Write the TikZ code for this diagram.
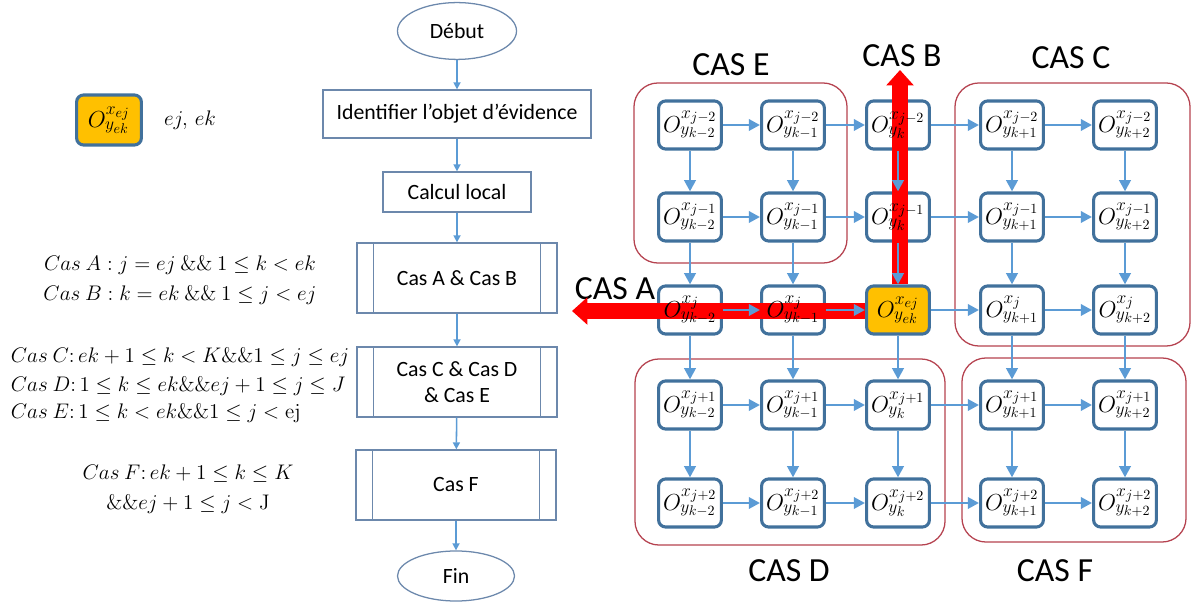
\RequirePackage{fix-cm}
\documentclass[tikz,border=0pt]{standalone}
\usepackage[no-math]{fontspec}
\setmainfont{Carlito}
\usetikzlibrary{arrows.meta,shapes.geometric}
\DeclareMathSizes{16.5}{16.5}{12.5}{10}
\DeclareMathSizes{15}{15}{11}{8.5}
\definecolor{nodeborder}{HTML}{41719C}
\definecolor{arrowblue}{HTML}{5B9BD5}
\definecolor{grpred}{HTML}{B5424F}
\definecolor{flowborder}{HTML}{6C88AC}
\definecolor{evid}{HTML}{FFC000}
\definecolor{bigred}{HTML}{FF0000}
\tikzset{
  gbox/.style={draw=nodeborder, line width=2.2pt, rounded corners=5pt, minimum width=1.57cm, minimum height=1.2cm, inner sep=0pt},
  gtext/.style={font=\fontsize{16.5}{20}\selectfont, inner sep=0pt},
  garrow/.style={draw=arrowblue, line width=2pt, -{Triangle[length=8pt,width=8pt]}},
  grp/.style={draw=grpred, line width=0.9pt, rounded corners=0.6cm, inner sep=0pt},
  caslab/.style={font=\fontsize{24}{28}\selectfont, inner sep=0pt},
  fbox/.style={draw=flowborder, line width=0.9pt, fill=white, font=\fontsize{15.5}{19}\selectfont, inner sep=0pt, align=center},
  fline/.style={draw=flowborder, line width=0.9pt},
  farrow/.style={draw=arrowblue, line width=1.1pt, -{Triangle[length=5pt,width=5pt]}},
  redarrow/.style={draw=bigred, line width=10.7pt, -{Triangle[length=11pt,width=19pt]}},
  condtext/.style={font=\fontsize{15}{18}\selectfont, inner sep=0pt},
}
\begin{document}
\begin{tikzpicture}[x=0.025cm, y=-0.025cm]
\useasboundingbox (0,0) rectangle (1192,602);

% ---------- flowchart ----------
\node[fbox, ellipse, minimum width=2.975cm, minimum height=1.42cm] (debut) at (457,31) {Début};
\node[fbox, minimum width=6.7cm, minimum height=1.2cm] (ident) at (457,114) {Identifier l’objet d’évidence};
\node[fbox, minimum width=3.7cm, minimum height=1.0cm] (calc) at (457,192) {Calcul local};
\node[fbox, minimum width=5.0cm, minimum height=1.75cm] (casAB) at (457,278) {Cas A \& Cas B};
\node[fbox, minimum width=5.0cm, minimum height=1.75cm] (casCDE) at (457,382) {Cas C \& Cas D\\\& Cas E};
\node[fbox, minimum width=5.0cm, minimum height=1.75cm] (casF) at (456,485) {Cas F};
\node[fbox, ellipse, minimum width=2.925cm, minimum height=1.25cm] (fin) at (456,576) {Fin};
\foreach \n in {casAB,casCDE,casF}{
  \draw[fline] ([xshift=0.425cm]\n.north west) -- ([xshift=0.425cm]\n.south west);
  \draw[fline] ([xshift=-0.425cm]\n.north east) -- ([xshift=-0.425cm]\n.south east);
}
\draw[farrow] (debut) -- (ident);
\draw[farrow] (ident) -- (calc);
\draw[farrow] (calc) -- (casAB);
\draw[farrow] (casAB) -- (casCDE);
\draw[farrow] (casCDE) -- (casF);
\draw[farrow] (casF) -- (fin);

% ---------- legend ----------
\node[gbox, fill=evid, minimum width=1.62cm, minimum height=1.25cm] (leg) at (109,120) {};
\node[gtext] (legt) at (leg) {$O^{x_{ej}}_{y_{ek}}$};
\node[condtext] (legej) at (190,120) {$ej,\,ek$};

% ---------- conditions ----------
\node[condtext, align=center] (condAB) at (180,280) {$Cas\ A: j = ej\ \&\&\ 1 \le k < ek$\\[3pt]$Cas\ B: k = ek\ \&\&\ 1 \le j < ej$};
\node[condtext, align=left] (condCDE) at (180,385) {$Cas\ C\colon ek+1\le k<K\&\&1\le j\le ej$\\[3pt]$Cas\ D\colon 1\le k\le ek\&\&ej+1\le j\le J$\\[1pt]$Cas\ E\colon 1\le k<ek\&\&1\le j<\mathrm{ej}$};
\node[condtext, align=center] (condF) at (188,489) {$Cas\ F\colon ek+1\le k\le K$\\[3pt]$\&\&ej+1\le j<\mathrm{J}$};

% ---------- groups ----------
\node[grp, minimum width=5.325cm, minimum height=4.5cm] (grpE) at (740.5,173) {};
\node[grp, minimum width=5.875cm, minimum height=6.575cm] (grpC) at (1072.5,214.5) {};
\node[grp, minimum width=7.75cm, minimum height=4.65cm] (grpD) at (790,452) {};
\node[grp, minimum width=5.6cm, minimum height=4.6cm] (grpF) at (1074,450) {};

\node[caslab] (labE) at (731,65) {CAS E};
\node[caslab] (labB) at (902,56) {CAS B};
\node[caslab] (labC) at (1071,58) {CAS C};
\node[caslab] (labD) at (789,571) {CAS D};
\node[caslab] (labF) at (1055,571) {CAS F};
\node[caslab] (labA) at (615,289) {CAS A};

% ---------- grid boxes ----------
\foreach \rr/\yy in {1/125,2/217,3/310,4/405,5/503}{
  \foreach \cc/\xx in {1/690,2/793,3/898,4/1012,5/1125}{
    \ifnum\rr\cc=33 \def\fc{evid}\else\def\fc{white}\fi
    \node[gbox, fill=\fc] (c\rr\cc) at (\xx,\yy) {};
  }
}

% ---------- red arrows ----------
\coordinate (tipA) at (572,311);
\coordinate (tipB) at (900,70);
\draw[redarrow] ([yshift=-0.025cm]c33.west) -- (tipA);
\draw[redarrow] ([xshift=0.05cm]c33.north) -- ([xshift=0.05cm]c33.north |- tipB);

% ---------- blue arrows ----------
\foreach \rr in {1,...,5}{
  \foreach \cc in {1,...,4}{
    \pgfmathtruncatemacro\nc{\cc+1}
    \draw[garrow] (c\rr\cc.east) -- (c\rr\nc.west);
  }
}
\foreach \cc in {1,...,5}{
  \foreach \rr in {1,...,4}{
    \pgfmathtruncatemacro\nr{\rr+1}
    \draw[garrow] (c\rr\cc.south) -- (c\nr\cc.north);
  }
}

% ---------- grid texts ----------
\foreach \rr/\sx in {1/j-2,2/j-1,3/j,4/j+1,5/j+2}{
  \foreach \cc/\sy in {1/k-2,2/k-1,3/k,4/k+1,5/k+2}{
    \ifnum\rr\cc=33
      \node[gtext] (t\rr\cc) at (c\rr\cc) {$O^{x_{ej}}_{y_{ek}}$};
    \else
      \node[gtext] (t\rr\cc) at (c\rr\cc) {$O^{x_{\sx}}_{y_{\sy}}$};
    \fi
  }
}
\end{tikzpicture}
\end{document}
